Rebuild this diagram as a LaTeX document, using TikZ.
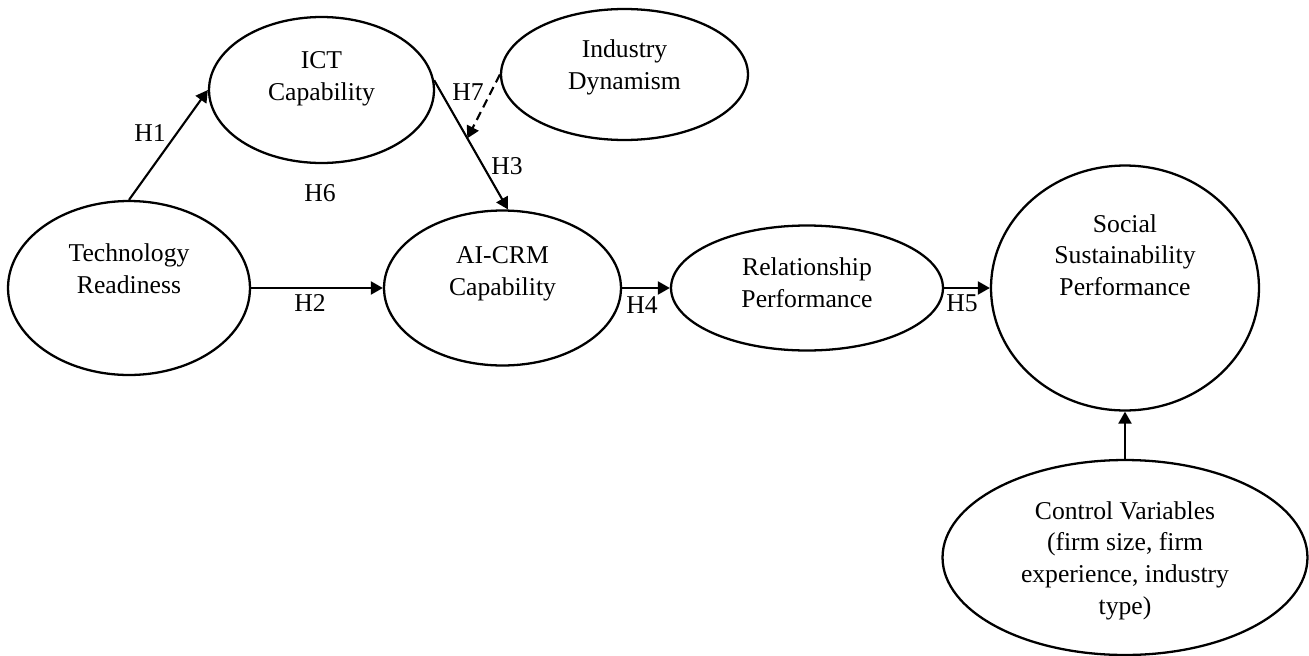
\documentclass[tikz,border=0pt]{standalone}
\usepackage{fontspec}
\setmainfont{Liberation Serif}
\usetikzlibrary{shapes.geometric,arrows.meta,calc}
\begin{document}
\begin{tikzpicture}
      [x=0.02cm,y=-0.02cm,
       construct/.style={ellipse,draw,line width=1.3pt,inner sep=0pt},
       txt/.style={align=center,inner sep=0pt,font=\fontsize{14.6}{18}\selectfont},
       hyp/.style={inner sep=0pt,font=\fontsize{14.6}{18}\selectfont},
       link/.style={-{Triangle[length=2.4mm,width=2.6mm]},line width=1.2pt},
       modlink/.style={link,dash pattern=on 5pt off 3pt}]
      \useasboundingbox (0,0) rectangle (1309,656);
      % constructs
      \node at (129,288) (tr) [construct,minimum width=4.84cm,minimum height=3.48cm] {};
      \node at (321.5,90) (ict) [construct,minimum width=4.5cm,minimum height=2.92cm] {};
      \node at (624.5,74.5) (ind) [construct,minimum width=4.94cm,minimum height=2.62cm] {};
      \node at (502.5,288) (aicrm) [construct,minimum width=4.74cm,minimum height=3.1cm] {};
      \node at (807,288) (rel) [construct,minimum width=5.44cm,minimum height=2.5cm] {};
      \node at (1125,288) (soc) [construct,minimum width=5.36cm,minimum height=4.9cm] {};
      \node at (1125,557.5) (ctrl) [construct,minimum width=7.3cm,minimum height=3.9cm] {};
      % texts
      \node at (129,269) (tr-t) [txt] {Technology\\Readiness};
      \node at (321.5,78.5) (ict-t) [txt] {ICT\\Capability};
      \node at (624.5,67.5) (ind-t) [txt] {Industry\\Dynamism};
      \node at (502.5,274) (aicrm-t) [txt] {AI-CRM\\Capability};
      \node at (807,283) (rel-t) [txt] {Relationship\\Performance};
      \node at (1125,255) (soc-t) [txt] {Social\\Sustainability\\Performance};
      \node at (1125,560.5) (ctrl-t) [txt] {Control Variables\\(firm size, firm\\experience, industry\\type)};
      % paths
      \draw [link] (tr.north) to (ict.west);
      \draw [link] (tr.east) to (aicrm.west);
      \draw [link] (ict.5) to (aicrm.86);
      \coordinate (h3mid) at ($(ict.5)!0.45!(aicrm.86)$);
      \draw [modlink] (ind.west) to (h3mid);
      \draw [link] (aicrm.east) to (rel.west);
      \draw [link] (rel.east) to (soc.west);
      \draw [link] (ctrl.north) to (soc.south);
      % hypotheses
      \node at (150,133) (h1) [hyp] {H1};
      \node at (310,303) (h2) [hyp] {H2};
      \node at (507,166) (h3) [hyp] {H3};
      \node at (642,305) (h4) [hyp] {H4};
      \node at (962,303) (h5) [hyp] {H5};
      \node at (320,193) (h6) [hyp] {H6};
      \node at (468,92) (h7) [hyp] {H7};
\end{tikzpicture}
\end{document}
